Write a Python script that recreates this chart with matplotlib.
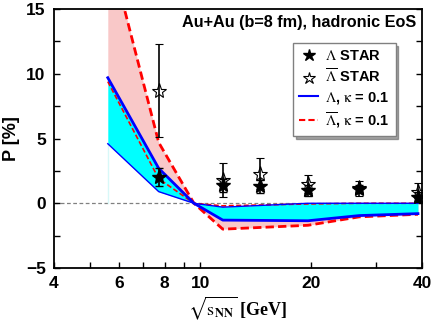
import numpy as np
import matplotlib
matplotlib.use("Agg")
import matplotlib.pyplot as plt

plt.rcParams["font.family"] = ["Liberation Sans", "DejaVu Sans"]
plt.rcParams["mathtext.fontset"] = "stix"

# model energies and polarization bands (kappa = 0.1)
model_e = [5.6, 7.7, 9.6, 11.5, 19.6, 27, 39]
lam_hi = [9.7, 2.7, 0.0, -1.3, -1.35, -0.95, -0.8]
lam_lo = [4.6, 0.9, 0.0, -0.3, 0.0, 0.0, 0.0]
alam_hi = [20.0, 4.7, 0.0, -2.0, -1.7, -1.05, -0.85]
alam_lo = [9.4, 1.9, 0.0, -0.2, -0.05, 0.0, 0.0]

# STAR data
star_e = [7.7, 11.5, 14.5, 19.6, 27, 39]
lam_p = [2.0, 1.4, 1.3, 1.0, 1.1, 0.5]
lam_err = [0.7, 0.5, 0.5, 0.4, 0.3, 0.4]
alam_p = [8.7, 1.8, 2.3, 1.5, 1.15, 0.9]
alam_err = [3.6, 1.3, 1.2, 0.7, 0.6, 0.7]

fig = plt.figure(figsize=(4.36, 3.22), dpi=100)
ax = fig.add_axes([0.1239, 0.1677, 0.844, 0.804])

ax.axhline(0, color="gray", ls="--", lw=0.9, dashes=(3, 2), zorder=1)
# faint edge of the band at the lowest energy
ax.plot([model_e[0], model_e[0]], [0, lam_lo[0]], color="#d8f8f8", lw=1,
        zorder=1)

ax.fill_between(model_e, alam_lo, alam_hi, color="#f9c8c8", lw=0, zorder=2)
ax.fill_between(model_e, lam_lo, lam_hi, color="#00ffff", lw=0, zorder=3)

ax.plot(model_e, alam_hi, color="red", ls="--", lw=2, dashes=(3, 1.5), zorder=4)
ax.plot(model_e, alam_lo, color="red", ls="--", lw=1.2, dashes=(3, 1.5), zorder=4)
ax.plot(model_e, lam_hi, color="blue", lw=2, zorder=5)
ax.plot(model_e, lam_lo, color="blue", lw=1, zorder=5)

ax.errorbar(star_e, alam_p, yerr=alam_err, fmt="*", ms=11, mfc="none",
            mec="black", mew=0.8, ecolor="black", elinewidth=1.2,
            capsize=3, zorder=6)
ax.errorbar(star_e, lam_p, yerr=lam_err, fmt="*", ms=11, color="black",
            ecolor="black", elinewidth=1.2, capsize=3, zorder=7)

# legend handles
h1, = ax.plot([], [], "*", color="black", ms=9, label=r"$\Lambda$ STAR")
h2, = ax.plot([], [], "*", mfc="none", mec="black", mew=0.8, ms=9,
              label=r"$\overline{\Lambda}$ STAR")
h3, = ax.plot([], [], color="blue", lw=1.5, label=r"$\Lambda$, $\mathrm{\kappa}$ = 0.1")
h4, = ax.plot([], [], color="red", ls="--", lw=1.5, dashes=(3, 1.5),
              label=r"$\overline{\Lambda}$, $\mathrm{\kappa}$ = 0.1")
leg = ax.legend(handles=[h1, h2, h3, h4], loc="upper right",
                bbox_to_anchor=(0.928, 0.868), fancybox=False, shadow=True,
                prop={"weight": "bold", "size": 10.5}, handlelength=1.3,
                handletextpad=0.5, borderpad=0.4, labelspacing=0.3,
                borderaxespad=0)
leg.get_frame().set_edgecolor("gray")

ax.set_xscale("log")
ax.set_xlim(4, 40)
ax.set_ylim(-5, 15)
xt = [4, 6, 8, 10, 20, 40]
ax.set_xticks(xt)
ax.set_xticklabels([str(v) for v in xt])
ax.set_xticks([5, 7, 9, 30], minor=True)
ax.set_xticklabels([], minor=True)
ax.set_yticks([-5, 0, 5, 10, 15])
ax.set_yticks([-2.5, 2.5, 7.5, 12.5], minor=True)
ax.tick_params(which="both", direction="in", right=True, labelsize=12.5,
               width=1)
ax.tick_params(which="major", length=4, pad=6)
ax.tick_params(which="minor", length=4)
for lab in ax.get_xticklabels() + ax.get_yticklabels():
    lab.set_fontweight("bold")
for s in ax.spines.values():
    s.set_linewidth(1.3)

ax.set_ylabel("P [%]", fontsize=13, fontweight="bold", labelpad=4)
ax.set_xlabel(r"$\sqrt{\mathrm{s}_{\mathbf{NN}}}$ [GeV]", fontsize=13,
              fontfamily="Liberation Serif", fontweight="bold", labelpad=2)

ax.text(0.985, 0.95, "Au+Au (b=8 fm), hadronic EoS", transform=ax.transAxes,
        ha="right", va="center", fontsize=11.7, fontweight="bold")

fig.savefig("out.png", dpi=100)
